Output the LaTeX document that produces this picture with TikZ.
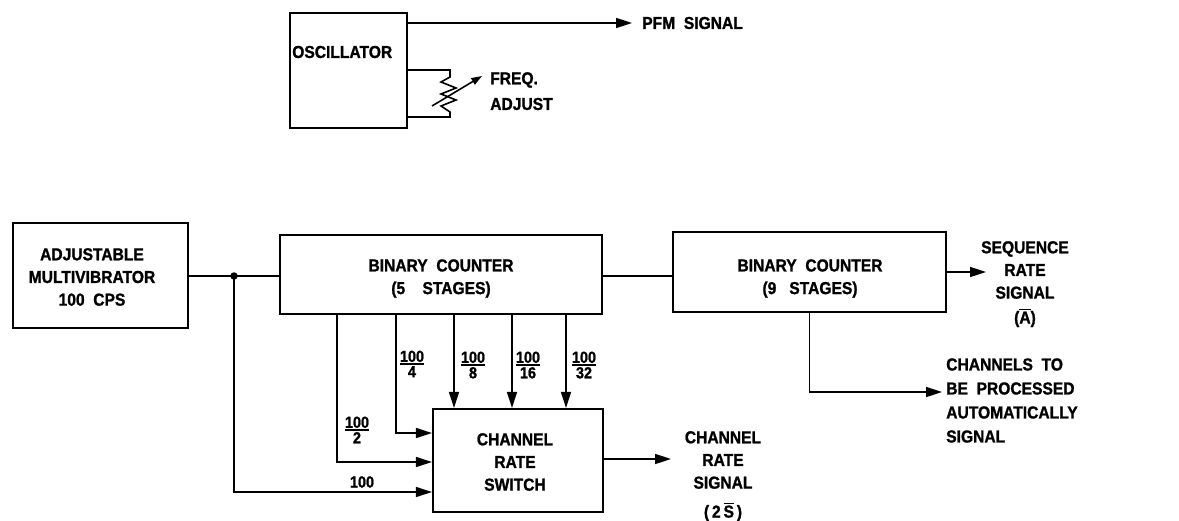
\documentclass[tikz,border=0pt]{standalone}
\usepackage{fontspec}
\setmainfont{Liberation Sans}[FakeStretch=0.9,BoldFeatures={FakeBold=1.2}]
\usetikzlibrary{arrows.meta,fit}
\newcommand\myfrac[2]{{\setlength\arrayrulewidth{1.2pt}\renewcommand\arraystretch{0.85}\begin{tabular}{@{}c@{}}#1\\[-2pt]\hline\noalign{\vskip1pt}#2\end{tabular}}}
\begin{document}
\begin{tikzpicture}[x=0.75pt,y=-0.75pt,
  box/.style={draw,line width=1.6pt,inner sep=0pt},
  ln/.style={line width=1.2pt},
  arr/.style={ln,-{Triangle[length=12pt,width=7.5pt]}},
  lbl/.style={font=\fontsize{13}{17}\selectfont\bfseries,align=center,inner sep=0pt},
  frl/.style={font=\fontsize{12}{12}\selectfont\bfseries,inner sep=0pt},
  ]
\useasboundingbox (0,0) rectangle (1179,521);

% level coordinates
\coordinate (y23) at (0,23);
\coordinate (y70) at (0,70);
\coordinate (y117) at (0,117);
\coordinate (y276) at (0,276);
\coordinate (y272) at (0,272);
\coordinate (y433) at (0,433);
\coordinate (y462) at (0,462);
\coordinate (y492) at (0,492);
\coordinate (y459) at (0,459);
\coordinate (x337) at (337,0);
\coordinate (x396) at (396,0);
\coordinate (x454) at (454,0);
\coordinate (x512) at (512,0);
\coordinate (x566) at (566,0);

% oscillator
\node[box, fit={(290,13) (407,128)}] (osc) {};
\node[lbl, anchor=west] (osct) at (292,52) {OSCILLATOR};
\coordinate (pfmtip) at (632,23);
\draw[arr] (osc.east |- y23) -- (pfmtip);
\node[lbl, anchor=west] (pfm) at (642,23) {PFM\ \ SIGNAL};

% frequency adjust resistor
\coordinate (r1) at (450,77);
\coordinate (r2) at (450,112);
\draw[ln] (osc.east |- y70) -| (r1) -- (441,82) -- (456,88) -- (441,94) -- (456,100) -- (441,106) -- (r2) |- (osc.east |- y117);
\coordinate (ra) at (432,106);
\coordinate (rb) at (482,76);
\draw[ln,-{Triangle[length=8pt,width=5.5pt]}] (ra) -- (rb);
\node[lbl, anchor=west] (freq) at (490,80) {FREQ.};
\node[lbl, anchor=west] (adj) at (490,104) {ADJUST};

% main chain
\node[box, fit={(13,223) (188,328)}] (mv) {};
\node[lbl] (mvt) at (92,277) {ADJUSTABLE\\MULTIVIBRATOR\\100\ \ CPS};

\node[box, fit={(280,235) (602,314)}] (c1) {};
\node[lbl] (c1t) at (441,278.5) {BINARY\ \ COUNTER\\(5\ \ \ \ STAGES)};

\node[box, fit={(673,232) (946,312)}] (c2) {};
\node[lbl] (c2t) at (810,278.5) {BINARY\ \ COUNTER\\(9\ \ \ STAGES)};

\node[box, fit={(433,409) (603,512)}] (sw) {};
\node[lbl] (swt) at (515,462) {CHANNEL\\RATE\\SWITCH};

\coordinate (j) at (234,276);
\draw[ln] (mv.east |- y276) -- (c1.west |- y276);
\fill (j) circle (2.8pt);
\draw[ln] (c1.east |- y276) -- (c2.west |- y276);

% sequence rate signal
\coordinate (seqtip) at (986,272);
\draw[arr] (c2.east |- y272) -- (seqtip);
\node[lbl] (seq) at (1025,270) {SEQUENCE\\RATE\\SIGNAL};
\node[lbl] (seqa) at (1025,318) {($\overline{\mbox{A}}$)};

% channels to be processed
\coordinate (chtip) at (942,392);
\draw[arr] (c2.south) |- (chtip);
\node[lbl, anchor=west, align=left, font=\fontsize{13}{18}\selectfont\bfseries] (cht) at (946,400.5) {CHANNELS\ \ TO\\BE\ \ PROCESSED\\AUTOMATICALLY\\SIGNAL};

% counter outputs to switch
\draw[arr] (c1.south -| x454) -- (sw.north -| x454);
\draw[arr] (c1.south -| x512) -- (sw.north -| x512);
\draw[arr] (c1.south -| x566) -- (sw.north -| x566);
\draw[arr] (c1.south -| x396) |- (sw.west |- y433);
\draw[arr] (c1.south -| x337) |- (sw.west |- y462);
\draw[arr] (j) |- (sw.west |- y492);

\node[frl] (f4) at (412,366) {\myfrac{100}{4}};
\node[frl] (f8) at (473,367) {\myfrac{100}{8}};
\node[frl] (f16) at (528,367) {\myfrac{100}{16}};
\node[frl] (f32) at (584,367) {\myfrac{100}{32}};
\node[frl] (f2) at (357,432) {\myfrac{100}{2}};
\node[frl] (f1) at (362,482) {100};

% channel rate signal
\coordinate (crtip) at (671,459);
\draw[arr] (sw.east |- y459) -- (crtip);
\node[lbl] (crs) at (723,460) {CHANNEL\\RATE\\SIGNAL};
\node[lbl] (crs2) at (723,512) {(\,2\,$\overline{\mbox{S}}$\,)};
\end{tikzpicture}
\end{document}
